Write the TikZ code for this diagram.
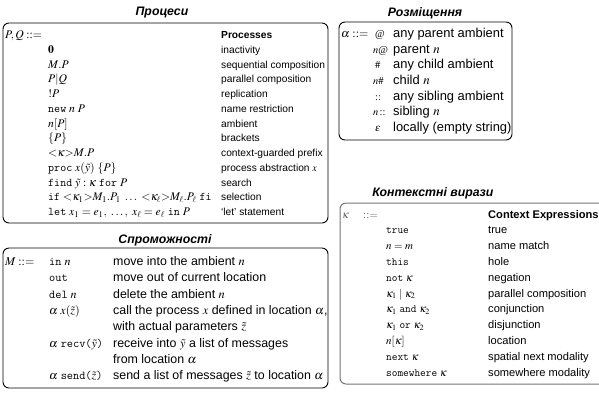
\documentclass[tikz,border=0pt]{standalone}
\usepackage{mathptmx}
\usepackage[no-math]{fontspec}
\setmainfont{Liberation Serif}
\setsansfont{Liberation Sans}
\tikzset{
  box/.style={draw=black, line width=0.9pt, rounded corners=6pt},
  gbox/.style={draw=black!55, line width=1pt, rounded corners=6pt},
  ttl/.style={anchor=base, inner sep=0pt, font=\sffamily\bfseries\itshape\fontsize{12.3}{14}\selectfont},
  tP/.style={anchor=base west, inner sep=0pt, font=\fontsize{11.7}{13}\selectfont},
  dP/.style={anchor=base west, inner sep=0pt, font=\sffamily\fontsize{10.2}{12}\selectfont},
  tM/.style={anchor=base west, inner sep=0pt, font=\fontsize{12}{14}\selectfont},
  dM/.style={anchor=base west, inner sep=0pt, font=\sffamily\fontsize{12.4}{14}\selectfont},
  tA/.style={anchor=base west, inner sep=0pt, font=\fontsize{12}{14}\selectfont},
  sA/.style={anchor=base west, inner sep=0pt, font=\fontsize{10.5}{12}\selectfont},
  dA/.style={anchor=base west, inner sep=0pt, font=\sffamily\fontsize{12.9}{14}\selectfont},
  tK/.style={anchor=base west, inner sep=0pt, font=\fontsize{11}{13}\selectfont},
  dK/.style={anchor=base west, inner sep=0pt, font=\sffamily\fontsize{11.1}{13}\selectfont},
}
\newcommand{\ang}[1]{{<}#1{>}}
\begin{document}
\begin{tikzpicture}[x=1pt,y=-1pt]
\useasboundingbox (0,0) rectangle (599,392);
\clip (0,0) rectangle (599,392);
% ---------- Processes ----------
\node[ttl] (tP) at (162,15) {Процеси};
\draw[box] (3,23) rectangle (328,223);
\node[tP] (p0) at (5,38.5) {$P, Q ::=$};
\node[dP,font=\sffamily\bfseries\fontsize{10.2}{12}\selectfont] (d0) at (221,38.5) {Processes};
\node[tP] (p1) at (48,53.25) {$\mathbf{0}$};
\node[dP] (d1) at (221,53.25) {inactivity};
\node[tP] (p2) at (48,68) {$M.P$};
\node[dP] (d2) at (221,68) {sequential composition};
\node[tP] (p3) at (48,82.75) {$P|Q$};
\node[dP] (d3) at (221,82.75) {parallel composition};
\node[tP] (p4) at (48,97.5) {$!P$};
\node[dP] (d4) at (221,97.5) {replication};
\node[tP] (p5) at (48,112.25) {\texttt{new}\ $n\ P$};
\node[dP] (d5) at (221,112.25) {name restriction};
\node[tP] (p6) at (48,127) {$n[P]$};
\node[dP] (d6) at (221,127) {ambient};
\node[tP] (p7) at (48,141.75) {$\{P\}$};
\node[dP] (d7) at (221,141.75) {brackets};
\node[tP] (p8) at (48,156.5) {$\ang{\kappa}M.P$};
\node[dP] (d8) at (221,156.5) {context-guarded prefix};
\node[tP] (p9) at (48,171.25) {\texttt{proc}\ $x(\tilde y)\ \{P\}$};
\node[dP] (d9) at (221,171.25) {process abstraction $x$};
\node[tP] (p10) at (48,186) {\texttt{find}\ $\tilde y:\kappa$\ \texttt{for}\ $P$};
\node[dP] (d10) at (221,186) {search};
\node[tP] (p11) at (48,200.75) {\texttt{if}\ $\ang{\kappa_1}M_1.P_1\ \ldots\ \ang{\kappa_\ell}M_\ell.P_\ell$\ \texttt{fi}};
\node[dP] (d11) at (221,200.75) {selection};
\node[tP] (p12) at (48,215.5) {\texttt{let}\ $x_1=e_1,\ \ldots,\ x_\ell=e_\ell$\ \texttt{in}\ $P$};
\node[dP] (d12) at (221,215.5) {`let' statement};
% ---------- Capabilities ----------
\node[ttl] (tM) at (165,243.5) {Спроможності};
\draw[box] (3,248) rectangle (328,388);
\node[tM] (m0) at (5,265.5) {$M ::=$};
\node[tM] (mc0) at (49,265.5) {\texttt{in}\ $n$};
\node[dM] (md0) at (113,265.5) {move into the ambient $n$};
\node[tM] (mc1) at (49,281.8) {\texttt{out}};
\node[dM] (md1) at (113,281.8) {move out of current location};
\node[tM] (mc2) at (49,298.1) {\texttt{del}\ $n$};
\node[dM] (md2) at (113,298.1) {delete the ambient $n$};
\node[tM] (mc3) at (49,314.4) {$\alpha\;x(\tilde z)$};
\node[dM] (md3) at (113,314.4) {call the process $x$ defined in location $\alpha$,};
\node[dM] (md4) at (113,330.7) {with actual parameters $\tilde z$};
\node[tM] (mc5) at (49,347) {$\alpha$\ \texttt{recv(}$\tilde y$\texttt{)}};
\node[dM] (md5) at (113,347) {receive into $\tilde y$ a list of messages};
\node[dM] (md6) at (113,363.3) {from location $\alpha$};
\node[tM] (mc7) at (49,379.6) {$\alpha$\ \texttt{send(}$\tilde z$\texttt{)}};
\node[dM] (md7) at (113,379.6) {send a list of messages $\tilde z$ to location $\alpha$};
% ---------- Locations ----------
\node[ttl] (tA) at (425,16.5) {Розміщення};
\draw[box] (339,22) rectangle (512,140);
\node[tA] (a0) at (341,37.5) {$\alpha ::=$};
\node[sA] (ac0) at (375,37.5) {@};
\node[dA] (ad0) at (393,37.5) {any parent ambient};
\node[sA] (ac1) at (373,53.2) {$n$@};
\node[dA] (ad1) at (393,53.2) {parent $n$};
\node[sA] (ac2) at (375,68.8) {$\#$};
\node[dA] (ad2) at (393,68.8) {any child ambient};
\node[sA] (ac3) at (373,84.5) {$n\#$};
\node[dA] (ad3) at (393,84.5) {child $n$};
\node[sA] (ac4) at (375,100.2) {$::$};
\node[dA] (ad4) at (393,100.2) {any sibling ambient};
\node[sA] (ac5) at (373,115.8) {$n\,{::}$};
\node[dA] (ad5) at (393,115.8) {sibling $n$};
\node[sA] (ac6) at (375,131.5) {$\epsilon$};
\node[dA] (ad6) at (393,131.5) {locally (empty string)};
% ---------- Context expressions ----------
\node[ttl] (tK) at (433,196.5) {Контекстні вирази};
\draw[gbox] (340,203) rectangle (610,384);
\node[tK,text=black!60] (k0) at (342,218) {$\kappa$};
\node[tK,text=black!60] (k0b) at (363,218) {$::=$};
\node[dK,font=\sffamily\bfseries\fontsize{11.1}{13}\selectfont] (kd0) at (488,218) {Context Expressions};
\node[tK] (kc1) at (386,233.8) {\texttt{true}};
\node[dK] (kd1) at (488,233.8) {true};
\node[tK] (kc2) at (386,249.6) {$n=m$};
\node[dK] (kd2) at (488,249.6) {name match};
\node[tK] (kc3) at (386,265.4) {\texttt{this}};
\node[dK] (kd3) at (488,265.4) {hole};
\node[tK] (kc4) at (386,281.2) {\texttt{not}\ $\kappa$};
\node[dK] (kd4) at (488,281.2) {negation};
\node[tK] (kc5) at (386,297) {$\kappa_1\mid\kappa_2$};
\node[dK] (kd5) at (488,297) {parallel composition};
\node[tK] (kc6) at (386,312.8) {$\kappa_1$\ \texttt{and}\ $\kappa_2$};
\node[dK] (kd6) at (488,312.8) {conjunction};
\node[tK] (kc7) at (386,328.6) {$\kappa_1$\ \texttt{or}\ $\kappa_2$};
\node[dK] (kd7) at (488,328.6) {disjunction};
\node[tK] (kc8) at (386,344.4) {$n[\kappa]$};
\node[dK] (kd8) at (488,344.4) {location};
\node[tK] (kc9) at (386,360.2) {\texttt{next}\ $\kappa$};
\node[dK] (kd9) at (488,360.2) {spatial next modality};
\node[tK] (kc10) at (386,376) {\texttt{somewhere}\ $\kappa$};
\node[dK] (kd10) at (488,376) {somewhere modality};
\end{tikzpicture}
\end{document}
